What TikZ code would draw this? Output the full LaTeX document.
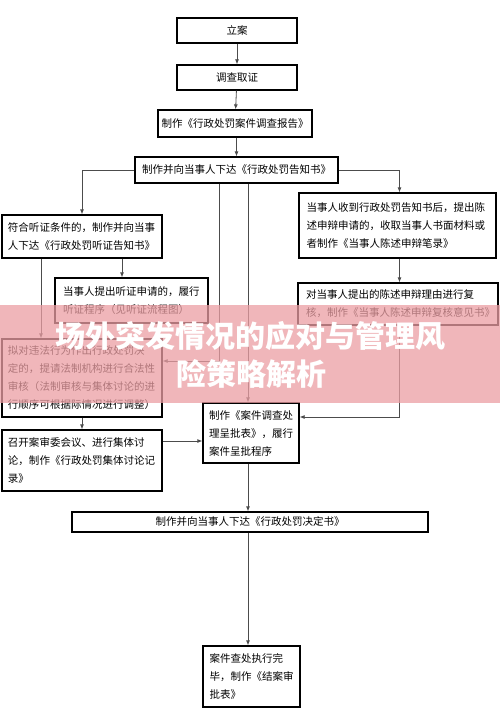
\documentclass[tikz,border=0pt]{standalone}
\usepackage{fontspec}
\newfontfamily\cjk{Noto Sans CJK SC}
\usepackage{tikz}
\usetikzlibrary{arrows.meta, positioning}
\definecolor{bannerpink}{rgb}{0.92,0.62,0.64}
\definecolor{linegray}{rgb}{0.3,0.3,0.3}
\begin{document}
\begin{tikzpicture}[
      x=1pt, y=-1pt,
      box/.style={rectangle, draw=black, line width=1.3pt, inner sep=0pt,
                  font=\cjk\fontsize{10.5}{18}\selectfont, align=center},
      lbox/.style={box, align=left},
      arr/.style={-{Latex[length=5pt,width=4pt]}, line width=0.8pt, draw=linegray},
      banner/.style={text=white, font=\cjk\bfseries\fontsize{30}{36}\selectfont},
      ]
    \useasboundingbox (0,0) rectangle (500,709);
    \coordinate (trunk) at (248,0);

    \node[box, minimum width=120pt, minimum height=25pt] (lian) at (237,30.5) {立案};
    \node[box, minimum width=120pt, minimum height=25pt] (diaocha) at (237,77.5) {调查取证};
    \node[box, minimum width=154pt, minimum height=27pt] (baogao) at (235,123.5) {制作《行政处罚案件调查报告》};
    \node[box, minimum width=203pt, minimum height=26pt] (gaozhi) at (236.5,170) {制作并向当事人下达《行政处罚告知书》};
    \node[lbox, minimum width=160pt, text width=148pt, minimum height=43pt] (tingzheng) at (82,236.5)
         {符合听证条件的，制作并向当事\\人下达《行政处罚听证告知书》};
    \node[lbox, minimum width=197pt, text width=182pt, minimum height=65pt] (chenshu) at (397.5,225.5)
         {当事人收到行政处罚告知书后，提出陈\\述申辩申请的，收取当事人书面材料或\\者制作《当事人陈述申辩笔录》};
    \node[lbox, minimum width=200pt, text width=184pt, minimum height=42pt] (fuhe) at (398,304)
         {对当事人提出的陈述申辩理由进行复\\核，制作《当事人陈述申辩复核意见书》};
    \node[lbox, minimum width=153pt, text width=137pt, minimum height=45pt] (shenqing) at (131.5,300.5)
         {当事人提出听证申请的，履行\\听证程序（见听证流程图）};
    \node[lbox, minimum width=160pt, text width=148pt, minimum height=78pt] (shenhe) at (82,378)
         {拟对违法行为作出行政处罚决\\定的，提请法制机构进行合法性\\审核（法制审核与集体讨论的进\\行顺序可根据际情况进行调整）};
    \node[lbox, minimum width=96pt, text width=84pt, minimum height=60pt] (chengpi) at (251,433)
         {制作《案件调查处\\理呈批表》，履行\\案件呈批程序};
    \node[lbox, minimum width=160pt, text width=148pt, minimum height=61pt] (taolun) at (82,460.5)
         {召开案审委会议、进行集体讨\\论，制作《行政处罚集体讨论记\\录》};
    \node[box, minimum width=356pt, minimum height=20pt] (jueding) at (250,522) {制作并向当事人下达《行政处罚决定书》};
    \node[lbox, minimum width=97pt, text width=84pt, minimum height=61pt] (jiean) at (251.5,676.5)
         {案件查处执行完\\毕，制作《结案审\\批表》};

    \draw[arr] (lian) -- (diaocha);
    \draw[arr] (diaocha) -- (baogao);
    \draw[arr] (baogao.south -| gaozhi.north) -- (gaozhi.north);
    \draw[arr] (gaozhi.west) -| (tingzheng.north);
    \draw[arr] (gaozhi.east) -| ([xshift=2pt]chenshu.north);
    \draw[arr] ([xshift=2pt]chenshu.south) -- ([xshift=2pt]chenshu.south |- fuhe.north);
    \draw[arr] ([xshift=1pt]fuhe.south) |- ([yshift=16pt]chengpi.east);
    \draw[arr] ([xshift=40pt]tingzheng.south) -- ([xshift=40pt]tingzheng.south |- shenqing.north);
    \draw[arr] ([xshift=-41pt]tingzheng.south) -- ([xshift=-41pt]tingzheng.south |- shenhe.north);
    \draw[arr] ([xshift=-17.5pt]gaozhi.south) |- ([yshift=17pt]shenhe.east);
    \draw[arr] (gaozhi.south -| trunk) -- (chengpi.north -| trunk);
    \draw[arr] (shenhe) -- (taolun);
    \draw[arr] ([yshift=19.5pt]taolun.east) -- ([yshift=19.5pt]taolun.east -| chengpi.west);
    \draw[arr] (chengpi.south -| trunk) -- (jueding.north -| trunk);
    \draw[arr] (jueding.south -| trunk) -- (jiean.north -| trunk);

    \fill[bannerpink, opacity=0.75] (0,305) rectangle (500,403);
    \node[banner] (title1) at (250,336) {场外突发情况的应对与管理风};
    \node[banner] (title2) at (251,374) {险策略解析};
  \end{tikzpicture}
\end{document}
